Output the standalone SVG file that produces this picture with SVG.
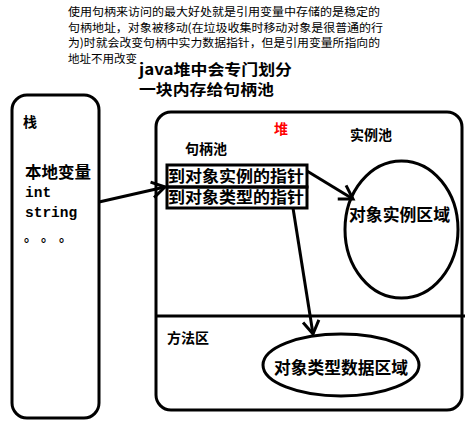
<svg xmlns="http://www.w3.org/2000/svg" width="475" height="425" viewBox="0 0 475 425">
<defs>
<style>
.note{font-family:"Noto Sans CJK SC","Noto Sans",sans-serif;font-size:11.5px;fill:#000}
.b{font-family:"Noto Sans CJK SC","Noto Sans",sans-serif;font-weight:bold;fill:#000}
.mono{font-family:"Liberation Mono","Noto Sans CJK SC",monospace;font-weight:bold;font-size:14.5px;fill:#000}
.box{fill:none;stroke:#000;stroke-width:3}
.conn{fill:none;stroke:#000;stroke-width:3}
</style>
<marker id="arr" markerUnits="userSpaceOnUse" markerWidth="30" markerHeight="30" refX="0" refY="0" viewBox="-15 -15 30 30" orient="auto" overflow="visible">
<path d="M-13,-8 L0,0 L-13,8" fill="none" stroke="#000" stroke-width="3"/>
</marker>
</defs>
<rect width="475" height="425" fill="#fff"/>
<g id="note">
<text class="note" x="68" y="16" textLength="312" lengthAdjust="spacingAndGlyphs">使用句柄来访问的最大好处就是引用变量中存储的是稳定的</text>
<text class="note" x="68" y="31.5" textLength="315" lengthAdjust="spacingAndGlyphs">句柄地址，对象被移动(在垃圾收集时移动对象是很普通的行</text>
<text class="note" x="68" y="47" textLength="312" lengthAdjust="spacingAndGlyphs">为)时就会改变句柄中实力数据指针，但是引用变量所指向的</text>
<text class="note" x="68" y="62.5" textLength="69" lengthAdjust="spacingAndGlyphs">地址不用改变</text>
</g>
<g id="title">
<text class="b" x="139" y="74.5" font-size="15" textLength="153" lengthAdjust="spacingAndGlyphs">java堆中会专门划分</text>
<text class="b" x="139" y="95" font-size="15" textLength="135" lengthAdjust="spacingAndGlyphs">一块内存给句柄池</text>
</g>
<g id="stack">
<rect class="box" x="12" y="95" width="87" height="323" rx="15" ry="15"/>
<text class="b" x="23" y="127" font-size="14">栈</text>
<text class="b" x="25" y="178" font-size="16" textLength="66" lengthAdjust="spacingAndGlyphs">本地变量</text>
<text class="mono" x="25" y="197">int</text>
<text class="mono" x="25" y="217">string</text>
<text class="b" x="24" y="241" font-size="13">。</text>
<text class="b" x="41" y="241" font-size="13">。</text>
<text class="b" x="59" y="241" font-size="13">。</text>
</g>
<g id="heap">
<rect class="box" x="156" y="112" width="306" height="298" rx="15" ry="15"/>
<line x1="156" y1="316" x2="465" y2="316" stroke="#000" stroke-width="3"/>
<text class="b" x="274" y="134" font-size="14" style="fill:#f00">堆</text>
<text class="b" x="350" y="140" font-size="14">实例池</text>
<text class="b" x="185" y="154" font-size="14">句柄池</text>
<text class="b" x="167" y="343" font-size="14">方法区</text>
</g>
<g id="handles">
<rect class="box" x="167" y="165" width="140" height="22"/>
<rect class="box" x="167" y="187" width="140" height="21"/>
<text class="b" x="168" y="182" font-size="15.5" textLength="136" lengthAdjust="spacingAndGlyphs">到对象实例的指针</text>
<text class="b" x="168" y="202.5" font-size="15.5" textLength="136" lengthAdjust="spacingAndGlyphs">到对象类型的指针</text>
</g>
<g id="instance-area">
<ellipse class="box" cx="401.5" cy="229.5" rx="56.5" ry="68.5"/>
<text class="b" x="349" y="221" font-size="16.5" textLength="101" lengthAdjust="spacingAndGlyphs">对象实例区域</text>
</g>
<g id="type-area">
<ellipse class="box" cx="341" cy="365" rx="78" ry="31"/>
<text class="b" x="274" y="374" font-size="16.5" textLength="134" lengthAdjust="spacingAndGlyphs">对象类型数据区域</text>
</g>
<g id="connectors">
<line class="conn" x1="99" y1="202" x2="165" y2="187" marker-end="url(#arr)"/>
<line class="conn" x1="307" y1="171" x2="353" y2="199" marker-end="url(#arr)"/>
<line class="conn" x1="293" y1="208" x2="313" y2="334" marker-end="url(#arr)"/>
</g>
</svg>
